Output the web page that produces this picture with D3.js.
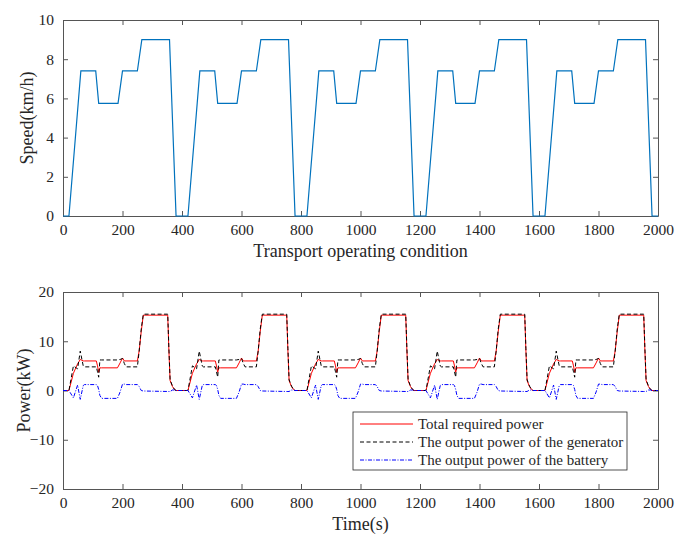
<!DOCTYPE html>
<html>
<head>
<meta charset="utf-8">
<script src="https://cdn.jsdelivr.net/npm/d3@7"></script>
<style>
  body { margin: 0; background: #fff; }
  text { font-family: "Liberation Serif", "Times New Roman", serif; fill: #262626; }
</style>
</head>
<body>
<div id="chart"></div>
<script>
// Data
// Speed of the transport operating condition (5 identical cycles)
var speedTime = [0, 20, 60, 110, 120, 185, 200, 250, 265, 358, 380,
  420, 460, 510, 520, 585, 600, 650, 665, 758, 780,
  820, 860, 910, 920, 985, 1000, 1050, 1065, 1158, 1180,
  1220, 1260, 1310, 1320, 1385, 1400, 1450, 1465, 1558, 1580,
  1620, 1660, 1710, 1720, 1785, 1800, 1850, 1865, 1958, 1980, 2000];
var speedValue = [0, 0, 7.4, 7.4, 5.75, 5.75, 7.4, 7.4, 9, 9, 0,
  0, 7.4, 7.4, 5.75, 5.75, 7.4, 7.4, 9, 9, 0,
  0, 7.4, 7.4, 5.75, 5.75, 7.4, 7.4, 9, 9, 0,
  0, 7.4, 7.4, 5.75, 5.75, 7.4, 7.4, 9, 9, 0,
  0, 7.4, 7.4, 5.75, 5.75, 7.4, 7.4, 9, 9, 0, 0];

// Power time base shared by the three power curves
var powerTime = [0,
  20, 35, 49, 58, 68, 72, 112, 116, 120, 124, 130, 183, 192, 200, 206, 212, 250, 256, 263, 270, 352, 356, 360, 368, 375, 380,
  420, 435, 449, 458, 468, 472, 512, 516, 520, 524, 530, 583, 592, 600, 606, 612, 650, 656, 663, 670, 752, 756, 760, 768, 775, 780,
  820, 835, 849, 858, 868, 872, 912, 916, 920, 924, 930, 983, 992, 1000, 1006, 1012, 1050, 1056, 1063, 1070, 1152, 1156, 1160, 1168, 1175, 1180,
  1220, 1235, 1249, 1258, 1268, 1272, 1312, 1316, 1320, 1324, 1330, 1383, 1392, 1400, 1406, 1412, 1450, 1456, 1463, 1470, 1552, 1556, 1560, 1568, 1575, 1580,
  1620, 1635, 1649, 1658, 1668, 1672, 1712, 1716, 1720, 1724, 1730, 1783, 1792, 1800, 1806, 1812, 1850, 1856, 1863, 1870, 1952, 1956, 1960, 1968, 1975, 1980,
  2000];
var totalPower = [0,
  0, 3.5, 5.4, 6.3, 6.0, 6.0, 6.0, 5.0, 3.7, 4.6, 4.6, 4.6, 5.6, 6.6, 6.0, 6.0, 6.0, 8.0, 12.0, 15.3, 15.3, 8.0, 2.0, 0.8, 0.2, 0,
  0, 3.5, 5.4, 6.3, 6.0, 6.0, 6.0, 5.0, 3.7, 4.6, 4.6, 4.6, 5.6, 6.6, 6.0, 6.0, 6.0, 8.0, 12.0, 15.3, 15.3, 8.0, 2.0, 0.8, 0.2, 0,
  0, 3.5, 5.4, 6.3, 6.0, 6.0, 6.0, 5.0, 3.7, 4.6, 4.6, 4.6, 5.6, 6.6, 6.0, 6.0, 6.0, 8.0, 12.0, 15.3, 15.3, 8.0, 2.0, 0.8, 0.2, 0,
  0, 3.5, 5.4, 6.3, 6.0, 6.0, 6.0, 5.0, 3.7, 4.6, 4.6, 4.6, 5.6, 6.6, 6.0, 6.0, 6.0, 8.0, 12.0, 15.3, 15.3, 8.0, 2.0, 0.8, 0.2, 0,
  0, 3.5, 5.4, 6.3, 6.0, 6.0, 6.0, 5.0, 3.7, 4.6, 4.6, 4.6, 5.6, 6.6, 6.0, 6.0, 6.0, 8.0, 12.0, 15.3, 15.3, 8.0, 2.0, 0.8, 0.2, 0,
  0];
var generatorPower = [0,
  0, 5.0, 4.4, 8.0, 5.0, 4.8, 4.8, 3.8, 2.7, 6.2, 6.2, 6.2, 6.3, 6.5, 5.5, 4.8, 4.8, 8.0, 12.5, 15.5, 15.5, 8.5, 2.2, 0.9, 0.2, 0,
  0, 5.0, 4.4, 8.0, 5.0, 4.8, 4.8, 3.8, 2.7, 6.2, 6.2, 6.2, 6.3, 6.5, 5.5, 4.8, 4.8, 8.0, 12.5, 15.5, 15.5, 8.5, 2.2, 0.9, 0.2, 0,
  0, 5.0, 4.4, 8.0, 5.0, 4.8, 4.8, 3.8, 2.7, 6.2, 6.2, 6.2, 6.3, 6.5, 5.5, 4.8, 4.8, 8.0, 12.5, 15.5, 15.5, 8.5, 2.2, 0.9, 0.2, 0,
  0, 5.0, 4.4, 8.0, 5.0, 4.8, 4.8, 3.8, 2.7, 6.2, 6.2, 6.2, 6.3, 6.5, 5.5, 4.8, 4.8, 8.0, 12.5, 15.5, 15.5, 8.5, 2.2, 0.9, 0.2, 0,
  0, 5.0, 4.4, 8.0, 5.0, 4.8, 4.8, 3.8, 2.7, 6.2, 6.2, 6.2, 6.3, 6.5, 5.5, 4.8, 4.8, 8.0, 12.5, 15.5, 15.5, 8.5, 2.2, 0.9, 0.2, 0,
  0];
var batteryPower = [0,
  0, -1.5, 1.1, -1.8, 1.0, 1.2, 1.2, 1.0, 0.2, -1.0, -1.6, -1.6, -0.3, 1.3, 1.3, 1.2, 1.2, 0.8, 0.0, -0.1, -0.2, -0.2, -0.2, 0.1, 0.1, 0,
  0, -1.5, 1.1, -1.8, 1.0, 1.2, 1.2, 1.0, 0.2, -1.0, -1.6, -1.6, -0.3, 1.3, 1.3, 1.2, 1.2, 0.8, 0.0, -0.1, -0.2, -0.2, -0.2, 0.1, 0.1, 0,
  0, -1.5, 1.1, -1.8, 1.0, 1.2, 1.2, 1.0, 0.2, -1.0, -1.6, -1.6, -0.3, 1.3, 1.3, 1.2, 1.2, 0.8, 0.0, -0.1, -0.2, -0.2, -0.2, 0.1, 0.1, 0,
  0, -1.5, 1.1, -1.8, 1.0, 1.2, 1.2, 1.0, 0.2, -1.0, -1.6, -1.6, -0.3, 1.3, 1.3, 1.2, 1.2, 0.8, 0.0, -0.1, -0.2, -0.2, -0.2, 0.1, 0.1, 0,
  0, -1.5, 1.1, -1.8, 1.0, 1.2, 1.2, 1.0, 0.2, -1.0, -1.6, -1.6, -0.3, 1.3, 1.3, 1.2, 1.2, 0.8, 0.0, -0.1, -0.2, -0.2, -0.2, 0.1, 0.1, 0,
  0];

// Tick values and legend labels
var xTicks = [0, 200, 400, 600, 800, 1000, 1200, 1400, 1600, 1800, 2000];
var speedTicks = [0, 2, 4, 6, 8, 10];
var powerTicks = [-20, -10, 0, 10, 20];
var legendLabels = ["Total required power", "The output power of the generator", "The output power of the battery"];

// Set up the svg
var svgWidth = 676;
var svgHeight = 534;
var left = 63, right = 658;
var serif = "'Liberation Serif', 'Times New Roman', serif";

var svg = d3.select("#chart")
  .append("svg")
  .attr("width", svgWidth)
  .attr("height", svgHeight);

// Draws one boxed MATLAB-style axes with inward ticks on all sides
function drawAxes(top, bottom, yDomain, yTicks, xLabel, yLabel, yLabelX) {
  var xScale = d3.scaleLinear().domain([0, 2000]).range([left, right]);
  var yScale = d3.scaleLinear().domain(yDomain).range([bottom, top]);

  var g = svg.append("g");

  var xBottom = d3.axisBottom(xScale).tickValues(xTicks).tickFormat(d3.format("d"))
    .tickSizeInner(-5).tickSizeOuter(0).tickPadding(8);
  var xTop = d3.axisTop(xScale).tickValues(xTicks).tickSizeInner(-5).tickSizeOuter(0).tickFormat("");
  var yLeft = d3.axisLeft(yScale).tickValues(yTicks).tickFormat(d3.format("d"))
    .tickSizeInner(-5).tickSizeOuter(0).tickPadding(9);
  var yRight = d3.axisRight(yScale).tickValues(yTicks).tickSizeInner(-5).tickSizeOuter(0).tickFormat("");

  [[xBottom, `translate(0,${bottom})`], [xTop, `translate(0,${top})`],
   [yLeft, `translate(${left},0)`], [yRight, `translate(${right},0)`]].forEach(function (a) {
    g.append("g")
      .attr("transform", a[1])
      .call(a[0])
      .attr("font-family", serif)
      .attr("font-size", 15.5);
  });

  g.selectAll(".domain").attr("stroke", "#555");
  g.selectAll(".tick line").attr("stroke", "#555");
  g.selectAll(".tick text").attr("fill", "#262626");

  // Axis titles
  g.append("text")
    .attr("x", (left + right) / 2)
    .attr("y", bottom + 41)
    .attr("text-anchor", "middle")
    .style("font-size", "18px")
    .text(xLabel);

  g.append("text")
    .attr("transform", `translate(${yLabelX},${(top + bottom) / 2})rotate(-90)`)
    .attr("text-anchor", "middle")
    .style("font-size", "18px")
    .text(yLabel);

  return { x: xScale, y: yScale, g: g };
}

// (1) Speed chart
var top1 = drawAxes(20, 216, [0, 10], speedTicks, "Transport operating condition", "Speed(km/h)", 33);

var speedLine = d3.line()
  .x(function (d, i) { return top1.x(speedTime[i]); })
  .y(function (d) { return top1.y(d); });

top1.g.append("path")
  .datum(speedValue)
  .attr("fill", "none")
  .attr("stroke", "#0072BD")
  .attr("stroke-width", 1.2)
  .attr("d", speedLine);

// (2) Power chart
var bot = drawAxes(292, 489, [-20, 20], powerTicks, "Time(s)", "Power(kW)", 30);

var powerLine = d3.line()
  .x(function (d, i) { return bot.x(powerTime[i]); })
  .y(function (d) { return bot.y(d); });

var series = [
  { values: totalPower, color: "#ff0000", dash: null },
  { values: generatorPower, color: "#000000", dash: "4,2.5" },
  { values: batteryPower, color: "#0000ff", dash: "4,1.5,1,1.5" }
];

series.forEach(function (s) {
  bot.g.append("path")
    .datum(s.values)
    .attr("fill", "none")
    .attr("stroke", s.color)
    .attr("stroke-width", 1)
    .attr("stroke-dasharray", s.dash)
    .attr("d", powerLine);
});

// Legend
var legend = bot.g.append("g").attr("transform", "translate(353,412)");

legend.append("rect")
  .attr("width", 274)
  .attr("height", 58)
  .attr("fill", "#fff")
  .attr("stroke", "#262626")
  .attr("stroke-width", 0.8);

legendLabels.forEach(function (label, i) {
  var y = 12 + i * 18;
  legend.append("line")
    .attr("x1", 7).attr("x2", 60)
    .attr("y1", y).attr("y2", y)
    .attr("stroke", series[i].color)
    .attr("stroke-width", 1)
    .attr("stroke-dasharray", series[i].dash);
  legend.append("text")
    .attr("x", 65)
    .attr("y", y + 4.5)
    .style("font-size", "15px")
    .text(label);
});
</script>
</body>
</html>
